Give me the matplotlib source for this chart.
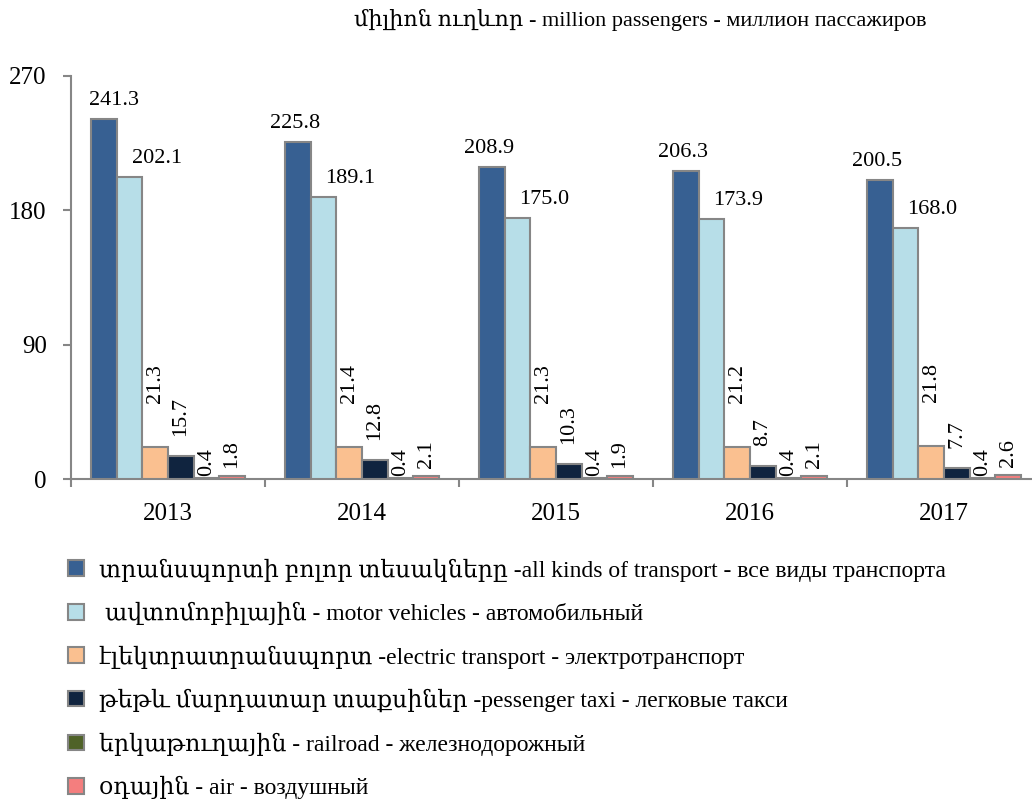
import matplotlib
matplotlib.use("Agg")
import matplotlib.pyplot as plt
import numpy as np

plt.rcParams['font.family'] = ['Liberation Serif', 'DejaVu Serif', 'DejaVu Sans']

years = ['2013', '2014', '2015', '2016', '2017']
series_names = [
    'տրանսպորտի բոլոր տեսակները -all kinds of transport - все виды транспорта',
    ' ավտոմոբիլային - motor vehicles - автомобильный',
    'էլեկտրատրանսպորտ -electric transport - электротранспорт',
    'թեթև մարդատար տաքսիներ -pessenger taxi - легковые такси',
    'երկաթուղային - railroad - железнодорожный',
    'օդային - air - воздушный',
]
all_kinds = [241.3, 225.8, 208.9, 206.3, 200.5]
motor = [202.1, 189.1, 175.0, 173.9, 168.0]
electric = [21.3, 21.4, 21.3, 21.2, 21.8]
taxi = [15.7, 12.8, 10.3, 8.7, 7.7]
railroad = [0.4, 0.4, 0.4, 0.4, 0.4]
air = [1.8, 2.1, 1.9, 2.1, 2.6]
yticks = [0, 90, 180, 270]
title = 'միլիոն ուղևոր - million passengers - миллион пассажиров'

colors = ['#376092', '#B7DEE8', '#FAC090', '#10243F', '#4F6228', '#F47E7E']
data = [all_kinds, motor, electric, taxi, railroad, air]

fig = plt.figure(figsize=(10.32, 8.05), dpi=100)
ax = fig.add_axes([71/1032, 326/805, 970/1032, 403/805])

x = np.arange(len(years))
w = 0.132
gray = '#868686'
px = 72/100.0  # points per pixel
bars = []
for i, (vals, c) in enumerate(zip(data, colors)):
    b = ax.bar(x + (i - 2.5) * w, vals, w, color=c, edgecolor=gray, linewidth=1.5,
               label=series_names[i], zorder=3)
    bars.append(b)

# data labels
for i, vals in enumerate(data):
    for j, v in enumerate(vals):
        xc = x[j] + (i - 2.5) * w
        if i == 0:
            dx = 10 if j == 0 else -3
            ax.annotate(f'{v:.1f}', (xc, v), xytext=(dx*px, 9*px), textcoords='offset points',
                        ha='center', va='bottom', fontsize=16)
        elif i == 1:
            ax.annotate(f'{v:.1f}', (xc, v), xytext=(2*px, 9*px), textcoords='offset points',
                        ha='left', va='bottom', fontsize=16)
        else:
            gap = {2: 44, 3: 20, 4: 2, 5: 8}[i]
            ax.annotate(f'{v:.1f}', (xc, v), xytext=(0, gap*px), textcoords='offset points',
                        ha='center', va='bottom', rotation=90, fontsize=16)

ax.set_xlim(-0.5, 4.5)
ax.set_ylim(0, 270)
ax.set_yticks(yticks)
ax.set_xticks(x)
ax.set_xticklabels(years)
ax.set_xticks(np.arange(-0.5, 5.0, 1.0), minor=True)
ax.tick_params(axis='x', which='major', length=0, labelsize=18, pad=17)
ax.tick_params(axis='x', which='minor', length=5.5, width=1.5, color=gray, direction='out')
ax.tick_params(axis='y', length=5.5, width=1.5, color=gray, labelsize=18, pad=12, direction='out')
for s in ['top', 'right']:
    ax.spines[s].set_visible(False)
for s in ['left', 'bottom']:
    ax.spines[s].set_color(gray)
    ax.spines[s].set_linewidth(1.5)

fig.text(640/1032, 1 - 20/805, title, ha='center', va='center', fontsize=16)

leg = fig.legend(handles=bars, labels=series_names, loc='upper left',
                 bbox_to_anchor=(59/1032, 1 - 549/805), frameon=False, fontsize=17,
                 handlelength=0.64, handleheight=0.64, handletextpad=0.64,
                 labelspacing=0.86, borderaxespad=0)

fig.savefig('out.png', dpi=100)
